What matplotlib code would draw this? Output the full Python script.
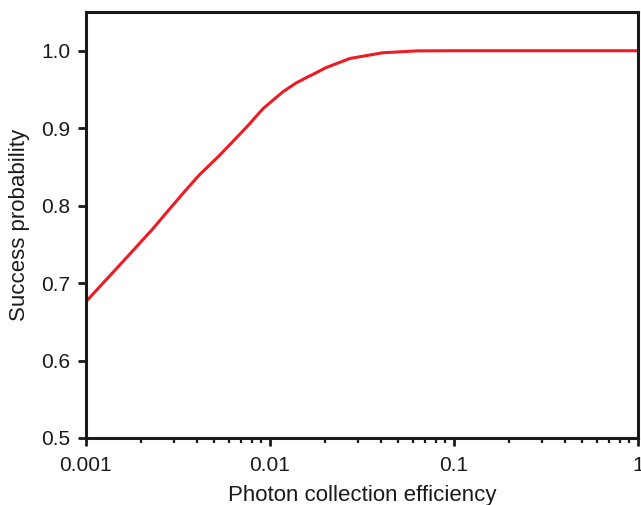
import matplotlib
matplotlib.use("Agg")
import matplotlib.pyplot as plt
from matplotlib.ticker import LogLocator, FixedLocator, NullFormatter

plt.rcParams['font.family'] = ['Liberation Sans', 'DejaVu Sans']

# Success probability vs photon collection efficiency
efficiency = [0.001, 0.00151, 0.00231, 0.00272, 0.00349, 0.00411, 0.00528,
              0.00679, 0.00778, 0.00916, 0.0105, 0.01178, 0.0138, 0.0160,
              0.0180, 0.0201, 0.0272, 0.0411, 0.063, 0.1, 0.3, 1.0]
success = [0.676, 0.722, 0.770, 0.790, 0.820, 0.839, 0.864,
           0.891, 0.906, 0.925, 0.937, 0.947, 0.958, 0.966,
           0.972, 0.978, 0.990, 0.9974, 0.9998, 1.0, 1.0, 1.0]

x_ticks = [0.001, 0.01, 0.1, 1]
x_labels = ['0.001', '0.01', '0.1', '1']
y_ticks = [0.5, 0.6, 0.7, 0.8, 0.9, 1.0]
y_labels = ['0.5', '0.6', '0.7', '0.8', '0.9', '1.0']

fig = plt.figure(figsize=(6.41, 5.05), dpi=100)
ax = fig.add_axes([0.134, 0.1327, 0.861, 0.8435])

ax.plot(efficiency, success, color='#ec1c24', lw=2.2, solid_joinstyle='round')

ax.set_xscale('log')
ax.set_xlim(0.001, 1)
ax.set_ylim(0.5, 1.05)

ax.xaxis.set_major_locator(FixedLocator(x_ticks))
ax.set_xticklabels(x_labels)
ax.xaxis.set_minor_locator(LogLocator(base=10, subs=range(2, 10)))
ax.xaxis.set_minor_formatter(NullFormatter())
ax.yaxis.set_major_locator(FixedLocator(y_ticks))
ax.set_yticklabels(y_labels)

for s in ax.spines.values():
    s.set_linewidth(2.2)
    s.set_color('#1a1a1a')

ax.tick_params(axis='both', which='major', direction='out', length=6, width=2.0,
               labelsize=15, colors='#1a1a1a', top=False, right=False, pad=5)
ax.tick_params(axis='x', which='major', pad=7)
ax.tick_params(axis='x', which='minor', direction='out', length=3.5, width=1.6,
               top=False, colors='#1a1a1a')
ax.tick_params(axis='y', which='minor', left=False, right=False)

ax.set_xlabel('Photon collection efficiency', fontsize=16, color='#1a1a1a', labelpad=7)
ax.set_ylabel('Success probability', fontsize=16, color='#1a1a1a', labelpad=8)

fig.savefig('out.png', dpi=100)
